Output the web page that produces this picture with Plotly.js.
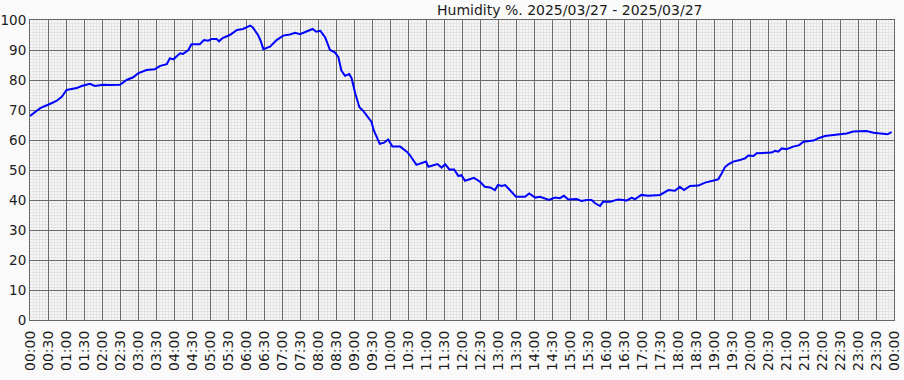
<!DOCTYPE html>
<html>
<head>
<meta charset="utf-8">
<script src="https://cdn.plot.ly/plotly-3.0.1.min.js"></script>
<style>
html,body{margin:0;padding:0;background:#fafafa;}
#chart{width:904px;height:380px;}
</style>
</head>
<body>
<div id="chart"></div>
<script>
const chartDate = "2025-03-27";
const nextDate = "2025-03-28";
const titleText = "Humidity %. 2025/03/27 - 2025/03/27";

const times = ["00:00","00:17","00:33","00:44","00:53","01:01","01:18","01:26","01:40","01:48",
"02:02","02:13","02:30","02:41","02:52","03:00","03:14","03:28","03:37","03:48",
"03:53","03:59","04:10","04:15","04:24","04:29","04:43","04:50","04:57","05:03",
"05:11","05:15","05:21","05:33","05:45","05:55","06:07","06:11","06:20","06:24",
"06:29","06:40","06:51","07:02","07:13","07:22","07:30","07:41","07:51","07:57",
"08:04","08:12","08:20","08:28","08:34","08:39","08:45","08:52","08:56","09:02",
"09:09","09:15","09:24","09:29","09:33","09:43","09:50","09:57","10:04","10:17",
"10:28","10:33","10:44","10:53","11:00","11:04","11:12","11:19","11:26","11:32",
"11:39","11:47","11:54","11:59","12:05","12:13","12:20","12:30","12:38","12:47",
"12:55","13:00","13:06","13:12","13:20","13:30","13:45","13:52","14:02","14:10",
"14:25","14:35","14:43","14:50","14:57","15:11","15:19","15:28","15:36","15:42",
"15:50","15:55","16:07","16:20","16:29","16:34","16:43","16:48","16:59","17:10",
"17:30","17:44","17:55","18:03","18:10","18:20","18:34","18:45","18:56","19:07",
"19:13","19:18","19:24","19:32","19:43","19:52","19:57","20:06","20:11","20:28",
"20:36","20:42","20:47","20:53","21:01","21:12","21:22","21:29","21:46","21:54",
"22:05","22:19","22:30","22:41","22:52","23:03","23:14","23:26","23:40","23:49",
"23:56"];

const humidity = [68,70.6,72,73,74.4,76.7,77.3,78,78.7,78,
78.4,78.3,78.4,80,80.9,82.2,83.3,83.6,84.7,85.3,
87.2,86.9,88.9,88.7,90,91.9,91.9,93.3,93.1,93.7,
93.7,92.9,94,95,96.7,97,98.1,97.6,95,93.3,
90.3,91.1,93.3,94.8,95.2,95.7,95.3,96.1,97,96.1,
96.4,94.2,90,89.2,87.6,83.1,81.4,82,80.6,75.6,
70.9,69.8,67.2,66.1,63.2,58.7,59.1,60.2,57.8,57.8,
56.1,55,51.7,52.2,52.8,51.1,51.7,52,50.8,51.9,
50.2,50.2,48,48.3,46.4,46.9,47.4,46.1,44.4,44.2,
43.3,45,44.7,45,43.3,41.1,41.1,42.2,40.8,41.1,
40,40.8,40.6,41.4,40.2,40.3,39.7,40,40,38.9,
38,39.4,39.4,40.2,40,39.8,40.8,40.2,41.7,41.4,
41.7,43.3,43.1,44.4,43.3,44.7,44.8,45.8,46.3,46.9,
48.9,50.9,51.9,52.8,53.3,53.9,54.8,54.7,55.6,55.8,
55.8,56.4,56.1,57.2,56.9,57.8,58.3,59.4,59.8,60.6,
61.3,61.7,61.9,62.2,62.8,63,63,62.4,62.2,61.9,
62.6];

const yTicks = [0,10,20,30,40,50,60,70,80,90,100];

const xs = times.map(t => chartDate + " " + t);

const trace = {
  x: xs,
  y: humidity,
  type: "scatter",
  mode: "lines",
  line: {color: "#0000ff", width: 2},
  hoverinfo: "x+y"
};

const layout = {
  width: 904,
  height: 380,
  margin: {l: 30, r: 10, t: 20, b: 60, pad: 0},
  paper_bgcolor: "#fafafa",
  plot_bgcolor: "#f6f6f6",
  showlegend: false,
  font: {family: "DejaVu Sans", size: 14, color: "#1a1a1a"},
  xaxis: {
    type: "date",
    range: [chartDate + " 00:00", nextDate + " 00:00"],
    dtick: 1800000,
    tick0: chartDate + " 00:00",
    tickformat: "%H:%M",
    tickangle: -90,
    ticks: "",
    ticklabelstandoff: 4,
    showgrid: true,
    gridcolor: "#6a6a6a",
    gridwidth: 1,
    showline: true,
    linecolor: "#666666",
    linewidth: 1,
    mirror: true,
    zeroline: false,
    tickfont: {family: "DejaVu Sans", size: 14, color: "#1a1a1a"},
    minor: {dtick: 300000, showgrid: true, gridcolor: "#e4e4e4", gridwidth: 1, ticks: ""}
  },
  yaxis: {
    range: [0, 100],
    tickvals: yTicks,
    ticktext: yTicks.map(String),
    ticks: "",
    ticklabelstandoff: 0,
    showgrid: true,
    gridcolor: "#6a6a6a",
    gridwidth: 1,
    showline: true,
    linecolor: "#666666",
    linewidth: 1,
    mirror: true,
    zeroline: false,
    tickfont: {family: "DejaVu Sans", size: 13.5, color: "#1a1a1a"},
    minor: {dtick: 1, showgrid: true, gridcolor: "#e4e4e4", gridwidth: 1, ticks: ""}
  },
  annotations: [{
    text: titleText,
    xref: "paper", yref: "paper",
    x: 0.624, y: 1.033,
    xanchor: "center", yanchor: "middle",
    showarrow: false,
    font: {family: "DejaVu Sans", size: 14, color: "#1a1a1a"}
  }]
};

Plotly.newPlot("chart", [trace], layout, {staticPlot: true, displayModeBar: false});
</script>
</body>
</html>
